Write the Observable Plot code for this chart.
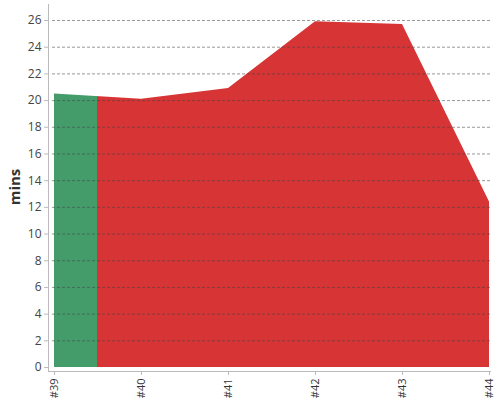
<!DOCTYPE html>
<html>
<head>
<meta charset="utf-8">
<script src="https://cdn.jsdelivr.net/npm/d3@7"></script>
<script src="https://cdn.jsdelivr.net/npm/@observablehq/plot@0.6"></script>
<style>
  html, body { margin: 0; padding: 0; background: #fff; }
  #chart { position: relative; width: 500px; height: 400px; font-family: "Open Sans", sans-serif; }
  #ylabel { position: absolute; left: 14px; top: 187px; transform: translate(-50%, -50%) rotate(-90deg);
            font-weight: bold; font-size: 15px; color: #333; white-space: nowrap; }
</style>
</head>
<body>
<div id="chart"><div id="ylabel">mins</div></div>
<script>
const categories = ["#39", "#40", "#41", "#42", "#43", "#44"];
const values = [20.5, 20.1, 20.9, 25.9, 25.7, 12.4];
const yTicks = [0, 2, 4, 6, 8, 10, 12, 14, 16, 18, 20, 22, 24, 26];
const greenUntil = 0.5; // category index where green turns red
const green = "#449c6b";
const red = "#d63435";

const data = categories.map((c, i) => ({label: c, value: values[i]}));
const splitFrac = greenUntil / (categories.length - 1);

const plot = Plot.plot({
  width: 500,
  height: 400,
  marginLeft: 48,
  marginRight: 10,
  marginTop: 4,
  marginBottom: 29,
  style: {fontFamily: "Open Sans, sans-serif", fontSize: "12px", color: "#444", background: "transparent"},
  x: {type: "point", domain: categories, padding: 0, insetLeft: 4, label: null},
  y: {domain: [0, 27.2], insetBottom: 4, label: null},
  marks: [
    Plot.areaY(data, {x: "label", y: "value", fill: "url(#splitfill)", curve: "linear"}),
    Plot.ruleY(yTicks.filter(d => d > 0), {stroke: "#444", strokeOpacity: 0.55, strokeDasharray: "3,2", insetLeft: 4}),
    Plot.frame({anchor: "left", stroke: "#bbb"}),
    Plot.frame({anchor: "bottom", stroke: "#bbb"}),
    Plot.axisY({ticks: yTicks, tickSize: 4, tickPadding: 3, stroke: "#bbb", fill: "#444", fontSize: 12, label: null}),
    Plot.axisX({tickRotate: -90, tickSize: 4, tickPadding: 3, stroke: "#bbb", fill: "#333", fontSize: 11, label: null})
  ]
});

const ns = "http://www.w3.org/2000/svg";
const defs = document.createElementNS(ns, "defs");
const grad = document.createElementNS(ns, "linearGradient");
grad.setAttribute("id", "splitfill");
grad.setAttribute("x1", "0"); grad.setAttribute("x2", "1");
grad.setAttribute("y1", "0"); grad.setAttribute("y2", "0");
[[0, green], [splitFrac, green], [splitFrac, red], [1, red]].forEach(([o, c]) => {
  const s = document.createElementNS(ns, "stop");
  s.setAttribute("offset", o);
  s.setAttribute("stop-color", c);
  grad.appendChild(s);
});
defs.appendChild(grad);
plot.insertBefore(defs, plot.firstChild);

document.getElementById("chart").appendChild(plot);
plot.style.position = "absolute";
plot.style.left = "0";
plot.style.top = "0";
</script>
</body>
</html>
